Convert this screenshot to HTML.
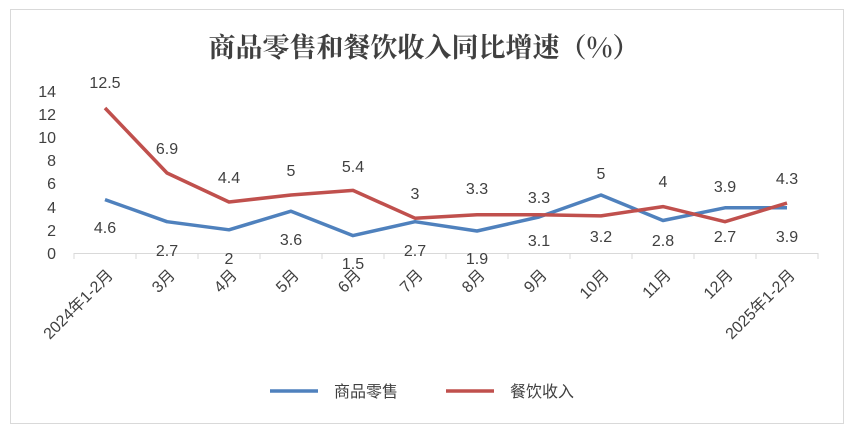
<!DOCTYPE html><html><head><meta charset="utf-8"><style>body{margin:0;background:#fff}</style></head><body>
<svg width="854" height="434" xmlns="http://www.w3.org/2000/svg" font-family="Liberation Sans, Noto Sans CJK SC, sans-serif">
<rect x="10.5" y="9.5" width="833" height="414" fill="#fff" stroke="#d9d9d9"/>
<text x="424" y="57" text-anchor="middle" font-size="27" font-weight="bold" font-family="Noto Serif CJK SC, Noto Sans CJK SC, serif" fill="#404040">商品零售和餐饮收入同比增速（%）</text>
<g font-size="16" fill="#404040" text-anchor="end">
<text x="56" y="259">0</text><text x="56" y="236">2</text><text x="56" y="213">4</text><text x="56" y="189">6</text><text x="56" y="166">8</text><text x="56" y="143">10</text><text x="56" y="120">12</text><text x="56" y="97">14</text>
</g>
<line x1="74" y1="253.5" x2="818" y2="253.5" stroke="#d9d9d9"/>
<g stroke="#d9d9d9"><line x1="74" y1="253" x2="74" y2="259"/><line x1="136" y1="253" x2="136" y2="259"/><line x1="198" y1="253" x2="198" y2="259"/><line x1="260" y1="253" x2="260" y2="259"/><line x1="322" y1="253" x2="322" y2="259"/><line x1="384" y1="253" x2="384" y2="259"/><line x1="446" y1="253" x2="446" y2="259"/><line x1="508" y1="253" x2="508" y2="259"/><line x1="570" y1="253" x2="570" y2="259"/><line x1="632" y1="253" x2="632" y2="259"/><line x1="694" y1="253" x2="694" y2="259"/><line x1="756" y1="253" x2="756" y2="259"/><line x1="818" y1="253" x2="818" y2="259"/></g>
<g font-size="16" fill="#404040" text-anchor="end">
<text transform="translate(114,276) rotate(-45)">2024年1-2月</text>
<text transform="translate(176,276) rotate(-45)">3月</text>
<text transform="translate(238,276) rotate(-45)">4月</text>
<text transform="translate(300,276) rotate(-45)">5月</text>
<text transform="translate(362,276) rotate(-45)">6月</text>
<text transform="translate(424,276) rotate(-45)">7月</text>
<text transform="translate(486,276) rotate(-45)">8月</text>
<text transform="translate(548,276) rotate(-45)">9月</text>
<text transform="translate(610,276) rotate(-45)">10月</text>
<text transform="translate(672,276) rotate(-45)">11月</text>
<text transform="translate(734,276) rotate(-45)">12月</text>
<text transform="translate(796,276) rotate(-45)">2025年1-2月</text>
</g>
<polyline fill="none" stroke="#4f81bd" stroke-width="3.5" stroke-linejoin="round" points="105,199.6 167,221.7 229,229.8 291,211.2 353,235.6 415,221.7 477,231 539,217 601,195 663,220.5 725,207.8 787,207.8"/>
<polyline fill="none" stroke="#c0504d" stroke-width="3.5" stroke-linejoin="round" points="105,108 167,173 229,202 291,195 353,190.4 415,218.2 477,214.7 539,214.7 601,215.9 663,206.6 725,221.7 787,203.1"/>
<g font-size="16" fill="#404040" text-anchor="middle">
<text x="105" y="88">12.5</text><text x="167" y="154">6.9</text><text x="229" y="183">4.4</text><text x="291" y="176">5</text><text x="353" y="172">5.4</text><text x="415" y="199">3</text><text x="477" y="194">3.3</text><text x="539" y="203">3.3</text><text x="601" y="242">3.2</text><text x="663" y="187">4</text><text x="725" y="242">2.7</text><text x="787" y="184">4.3</text>
<text x="105" y="233">4.6</text><text x="167" y="256">2.7</text><text x="229" y="264">2</text><text x="291" y="245">3.6</text><text x="353" y="269">1.5</text><text x="415" y="256">2.7</text><text x="477" y="264">1.9</text><text x="539" y="246">3.1</text><text x="601" y="179">5</text><text x="663" y="246">2.8</text><text x="725" y="192">3.9</text><text x="787" y="242">3.9</text>
</g>
<line x1="270" y1="391" x2="318" y2="391" stroke="#4f81bd" stroke-width="3.5"/>
<text x="334" y="397" font-size="16" fill="#404040">商品零售</text>
<line x1="446" y1="391" x2="494" y2="391" stroke="#c0504d" stroke-width="3.5"/>
<text x="510" y="397" font-size="16" fill="#404040">餐饮收入</text>
</svg></body></html>
